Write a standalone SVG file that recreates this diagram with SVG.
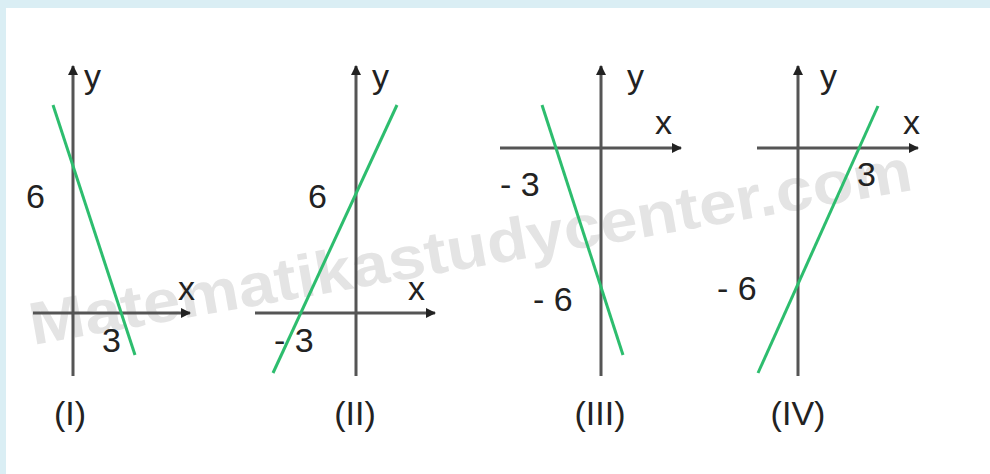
<svg xmlns="http://www.w3.org/2000/svg" width="990" height="474" viewBox="0 0 990 474">
<defs>
<marker id="arr" viewBox="0 0 10 10" refX="9" refY="5" markerWidth="10" markerHeight="10" markerUnits="userSpaceOnUse" orient="auto">
<path d="M0,0 L10,5 L0,10 z" fill="#222"/>
</marker>
</defs>
<style>
.ax{stroke:#555;stroke-width:3;fill:none}
.ln{stroke:#2dbd6e;stroke-width:3;fill:none}
text{font-family:"Liberation Sans",Arial,sans-serif;fill:#222;font-size:34px}
.wm{font-weight:bold;fill:#d9d9d9;font-size:60px;opacity:0.7}
.cap{text-anchor:middle}
</style>
<rect x="0" y="0" width="990" height="474" fill="#daeef4"/>
<rect x="6" y="8" width="984" height="466" fill="#ffffff"/>
<text class="wm" x="33" y="345" textLength="895" lengthAdjust="spacingAndGlyphs" transform="rotate(-10 33 345)">Matematikastudycenter.com</text>
<g id="graph1">
<line class="ax" x1="73" y1="376" x2="73" y2="66" marker-end="url(#arr)"/>
<line class="ax" x1="33" y1="313" x2="190" y2="313" marker-end="url(#arr)"/>
<line class="ln" x1="53" y1="105" x2="135" y2="355"/>
<text x="84" y="88">y</text>
<text x="178" y="300">x</text>
<text x="26" y="208">6</text>
<text x="102" y="352">3</text>
<text class="cap" x="70" y="425">(I)</text>
</g>
<g id="graph2">
<line class="ax" x1="356" y1="376" x2="356" y2="66" marker-end="url(#arr)"/>
<line class="ax" x1="255" y1="313" x2="435" y2="313" marker-end="url(#arr)"/>
<line class="ln" x1="273" y1="373" x2="397" y2="105"/>
<text x="372" y="88">y</text>
<text x="408" y="300">x</text>
<text x="308" y="208">6</text>
<text x="274" y="352">- 3</text>
<text class="cap" x="355" y="425">(II)</text>
</g>
<g id="graph3">
<line class="ax" x1="601" y1="376" x2="601" y2="66" marker-end="url(#arr)"/>
<line class="ax" x1="500" y1="148" x2="681" y2="148" marker-end="url(#arr)"/>
<line class="ln" x1="542" y1="105" x2="623" y2="355"/>
<text x="627" y="88">y</text>
<text x="655" y="134">x</text>
<text x="500" y="196">- 3</text>
<text x="533" y="311">- 6</text>
<text class="cap" x="600" y="425">(III)</text>
</g>
<g id="graph4">
<line class="ax" x1="798" y1="376" x2="798" y2="66" marker-end="url(#arr)"/>
<line class="ax" x1="757" y1="148" x2="918" y2="148" marker-end="url(#arr)"/>
<line class="ln" x1="758" y1="373" x2="878" y2="106"/>
<text x="820" y="88">y</text>
<text x="903" y="134">x</text>
<text x="857" y="186">3</text>
<text x="717" y="300">- 6</text>
<text class="cap" x="798" y="425">(IV)</text>
</g>
</svg>
